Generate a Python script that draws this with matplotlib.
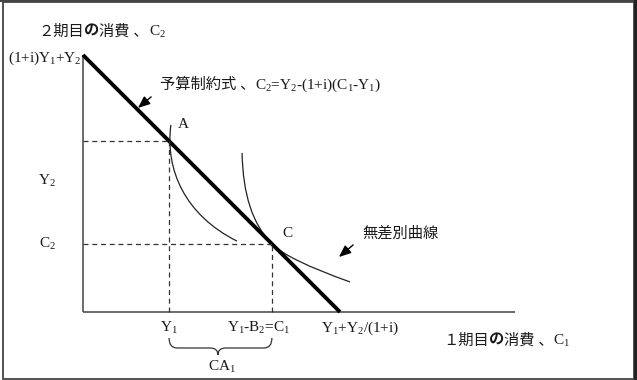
import matplotlib
matplotlib.use('Agg')
import matplotlib.pyplot as plt
from matplotlib.path import Path
from matplotlib.patches import PathPatch, Rectangle

plt.rcParams['font.family'] = ['Liberation Serif', 'Noto Sans CJK JP']
plt.rcParams['mathtext.fontset'] = 'custom'
plt.rcParams['mathtext.rm'] = 'Liberation Serif'
plt.rcParams['mathtext.it'] = 'Liberation Serif'
plt.rcParams['mathtext.bf'] = 'Liberation Serif:bold'

# ---------------- data (model units) ----------------
budget_y_intercept = 10.0          # (1+i)Y1+Y2
budget_x_intercept = 10.0          # Y1+Y2/(1+i)
point_A = (3.35, 6.65)             # endowment (Y1, Y2)
point_C = (7.35, 2.65)             # optimum (C1, C2)
x_axis_end = 16.8
# indifference curve through A (cubic Bezier control points)
indiff1_x = [3.42, 3.19, 3.97, 5.99]
indiff1_y = [7.28, 5.53, 3.77, 2.76]
# indifference curve tangent at C (two quadratic Bezier segments)
indiff2_x = [6.19, 6.23, 7.35, 7.98, 10.39]
indiff2_y = [6.19, 3.77, 2.65, 2.02, 1.17]

# (text, weight)
title_y_runs = [("２期目", 'normal'), ("の", 'bold'), ("消費 、", 'normal'), ("$C_2$", 'normal')]
title_x_runs = [("１期目", 'normal'), ("の", 'bold'), ("消費 、", 'normal'), ("$C_1$", 'normal')]
budget_runs = [("予算制約式 、", 'normal'), ("$C_2$=$Y_2$-(1+i)($C_1$-$Y_1$)", 'normal')]
indiff_label = "無差別曲線"
ytick_top = "(1+i)$Y_1$+$Y_2$"
ytick_Y2 = "$Y_2$"
ytick_C2 = "$C_2$"
xtick_Y1 = "$Y_1$"
xtick_C1 = "$Y_1$-$B_2$=$C_1$"
xtick_end = "$Y_1$+$Y_2$/(1+i)"
ca_label = "$CA_1$"

# ---------------- figure ----------------
W, H = 637, 380
S = 25.7  # pixels per unit
fig = plt.figure(figsize=(W / 100, H / 100), dpi=100)
ax = fig.add_axes([0, 0, 1, 1])
ax.set_xlim(-83 / S, (W - 83) / S)
ax.set_ylim(-(H - 312) / S, 312 / S)
ax.axis('off')

txt = '#1a1a1a'
fs = 11
renderer = fig.canvas.get_renderer()


def draw_runs(x, y, runs):
    """Place text runs one after another, starting at data point (x, y)."""
    xd, yd = ax.transData.transform((x, y))
    for s, w in runs:
        xx, yy = ax.transData.inverted().transform((xd, yd))
        t = ax.text(xx, yy, s, fontsize=fs, color=txt, ha='left', va='center',
                    fontweight=w)
        bb = t.get_window_extent(renderer=renderer)
        xd = bb.x1


# frame
fig.patches.append(Rectangle((2.5 / W, 1.5 / H), (634 - 2.5) / W, (378 - 1.5) / H,
                             transform=fig.transFigure, fill=False,
                             edgecolor='#444444', linewidth=1.3))
fig.patches.append(Rectangle((0, (H - 2) / H), 1, 2 / H, transform=fig.transFigure,
                             facecolor='#444444', edgecolor='none'))
fig.patches.append(Rectangle(((W - 3) / W, 0), 3 / W, 1, transform=fig.transFigure,
                             facecolor='#222222', edgecolor='none'))

# axes lines
ax.plot([0, 0], [0, budget_y_intercept], color='#444444', lw=1.1, solid_capstyle='butt')
ax.plot([0, x_axis_end], [0, 0], color='#444444', lw=1.1, solid_capstyle='butt')

# budget line
ax.plot([0, budget_x_intercept], [budget_y_intercept, 0], color='black', lw=2.8,
        solid_capstyle='butt')

# dashed guides
dash = dict(color='#333333', lw=0.9, ls=(0, (4, 3)))
ax.plot([0, point_A[0]], [point_A[1], point_A[1]], **dash)
ax.plot([point_A[0], point_A[0]], [0, point_A[1]], **dash)
ax.plot([0, point_C[0]], [point_C[1], point_C[1]], **dash)
ax.plot([point_C[0], point_C[0]], [0, point_C[1]], **dash)

# indifference curves
p1 = Path(list(zip(indiff1_x, indiff1_y)),
          [Path.MOVETO, Path.CURVE4, Path.CURVE4, Path.CURVE4])
ax.add_patch(PathPatch(p1, fill=False, edgecolor='#222222', lw=0.9))
p2 = Path(list(zip(indiff2_x, indiff2_y)),
          [Path.MOVETO, Path.CURVE3, Path.CURVE3, Path.CURVE3, Path.CURVE3])
ax.add_patch(PathPatch(p2, fill=False, edgecolor='#222222', lw=0.9))

# arrows
arrowprops = dict(arrowstyle='-|>,head_length=0.6,head_width=0.25', color='black',
                  lw=1.0, shrinkA=0, shrinkB=0, mutation_scale=12)
ax.annotate("", xy=(2.14, 7.94), xytext=(2.65, 8.37), arrowprops=arrowprops)
ax.annotate("", xy=(9.96, 2.14), xytext=(10.51, 2.61), arrowprops=arrowprops)

# brace under x axis between Y1 and C1
x0, x1 = point_A[0], point_C[0]
xm = 5.25
ytop, ymid, ytip = -1.01, -1.40, -1.67
r = 0.31
verts = [(x0, ytop), (x0, ymid), (x0 + r, ymid),
         (xm - r, ymid), (xm, ymid), (xm, ytip),
         (xm, ymid), (xm + r, ymid),
         (x1 - r, ymid), (x1, ymid), (x1, ytop)]
codes = [Path.MOVETO, Path.CURVE3, Path.CURVE3,
         Path.LINETO, Path.CURVE3, Path.CURVE3,
         Path.CURVE3, Path.CURVE3,
         Path.LINETO, Path.CURVE3, Path.CURVE3]
ax.add_patch(PathPatch(Path(verts, codes), fill=False, edgecolor='#333333', lw=0.9))

# texts
draw_runs(-1.75, 10.90, title_y_runs)
draw_runs(14.0, -1.13, title_x_runs)
draw_runs(3.0, 8.83, budget_runs)
ax.text(10.86, 3.07, indiff_label, fontsize=fs, color=txt, ha='left', va='center')
ax.text(-0.04, budget_y_intercept - 0.12, ytick_top, fontsize=fs, color=txt,
        ha='right', va='center')
ax.text(-1.40, 5.10, ytick_Y2, fontsize=fs, color=txt, ha='center', va='center')
ax.text(-1.40, point_C[1], ytick_C2, fontsize=fs, color=txt, ha='center', va='center')
ax.text(3.70, 7.28, "A", fontsize=fs, color=txt, ha='left', va='center')
ax.text(7.74, 3.07, "C", fontsize=fs, color=txt, ha='left', va='center')
ax.text(point_A[0], -0.62, xtick_Y1, fontsize=fs, color=txt, ha='center', va='center')
ax.text(6.85, -0.62, xtick_C1, fontsize=fs, color=txt, ha='center', va='center')
ax.text(10.78, -0.62, xtick_end, fontsize=fs, color=txt, ha='center', va='center')
ax.text(5.41, -2.14, ca_label, fontsize=fs, color=txt, ha='center', va='center')

fig.savefig('out.png', dpi=100)
